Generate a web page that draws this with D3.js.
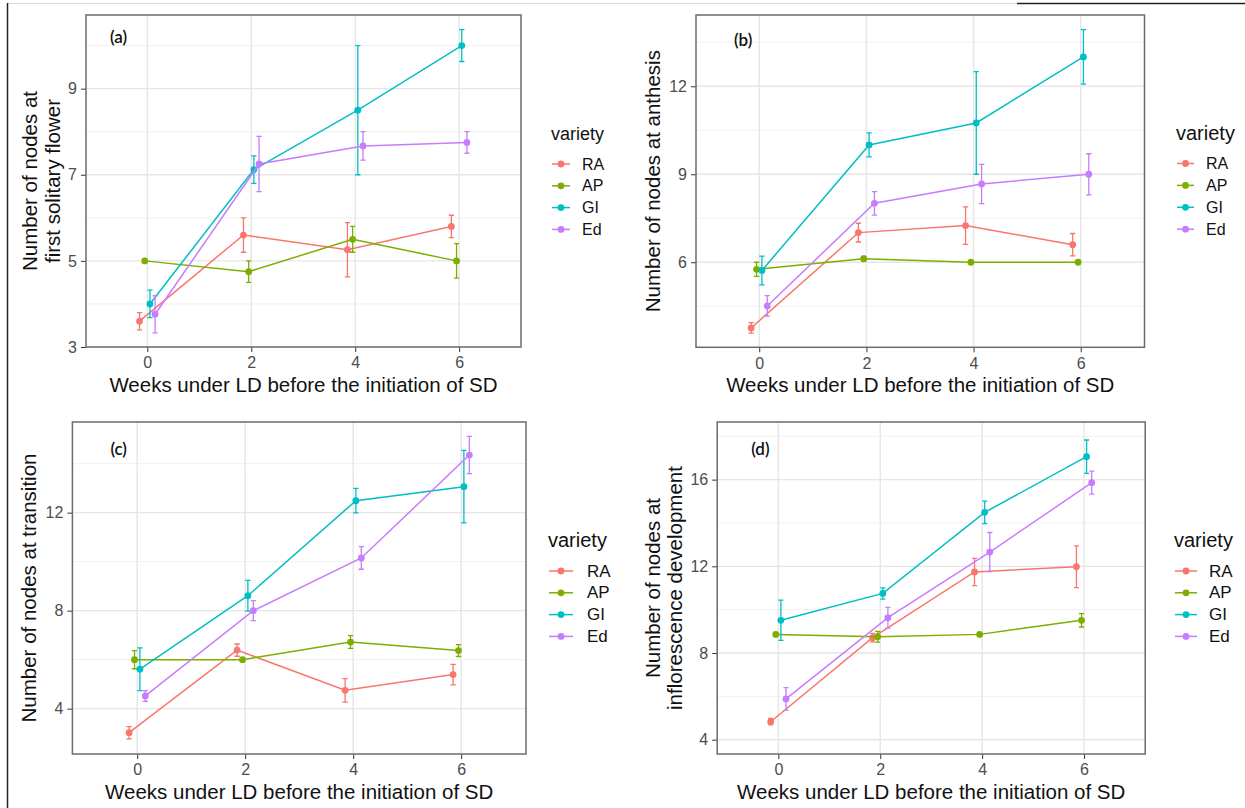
<!DOCTYPE html>
<html>
<head>
<meta charset="utf-8">
<script src="https://cdn.jsdelivr.net/npm/d3@7"></script>
<style>
  body { margin: 0; background: #fff; }
  svg { display: block; font-family: "Liberation Sans", Arial, sans-serif; }
</style>
</head>
<body>
<svg width="1245" height="808"></svg>
<script>
// weeks under long days, and the four varieties
const weeks = [0, 2, 4, 6];
const varieties = ["RA", "AP", "GI", "Ed"];
const palette = ["#F8766D", "#7CAE00", "#00BFC4", "#C77CFF"];

// (a) nodes at first solitary flower, rows = RA, AP, GI, Ed
const firstFlowerMean = [[3.6, 5.6, 5.26, 5.8], [5.0, 4.75, 5.5, 5.0], [4.0, 7.12, 8.5, 10.0], [3.76, 7.25, 7.67, 7.75]];
const firstFlowerSE = [[0.2, 0.4, 0.63, 0.26], [0, 0.25, 0.3, 0.4], [0.32, 0.32, 1.5, 0.37], [0.43, 0.64, 0.33, 0.25]];

// (b) nodes at anthesis
const anthesisMean = [[3.76, 7.01, 7.25, 6.6], [5.76, 6.12, 6.0, 6.0], [5.72, 10.0, 10.75, 13.0], [4.51, 8.01, 8.67, 9.0]];
const anthesisSE = [[0.18, 0.32, 0.64, 0.38], [0.24, 0.08, 0, 0], [0.49, 0.41, 1.75, 0.93], [0.35, 0.4, 0.67, 0.7]];

// (c) nodes at transition
const transitionMean = [[3.02, 6.39, 4.75, 5.39], [6.0, 6.0, 6.72, 6.37], [5.61, 8.61, 12.49, 13.06], [4.52, 8.0, 10.15, 14.35]];
const transitionSE = [[0.25, 0.25, 0.48, 0.42], [0.37, 0, 0.26, 0.24], [0.87, 0.63, 0.5, 1.48], [0.22, 0.41, 0.46, 0.76]];

// (d) nodes at inflorescence development
const inflorescenceMean = [[4.83, 8.71, 11.74, 11.98], [8.86, 8.75, 8.86, 9.51], [9.51, 10.75, 14.49, 17.06], [5.88, 9.63, 12.66, 15.86]];
const inflorescenceSE = [[0.15, 0.2, 0.63, 0.96], [0.08, 0.25, 0.06, 0.31], [0.93, 0.26, 0.52, 0.77], [0.52, 0.48, 0.9, 0.53]];

const ticksA = [3, 5, 7, 9];
const ticksB = [6, 9, 12];
const ticksC = [4, 8, 12];
const ticksD = [4, 8, 12, 16];

const xTitle = "Weeks under LD before the initiation of SD";
const dodge = 0.4;

const panels = [
  { tag: "(a)", mean: firstFlowerMean, se: firstFlowerSE, ticks: ticksA, yDomain: [3.0, 10.71],
    xDomain: [-1.18, 7.19], box: [86, 15, 521, 347], yTitle: ["Number of nodes at", "first solitary flower"],
    yTitleX: [29, 52], tagPos: [24, 43], legend: { x: 551, y: 140, keyY: 164, step: 21.8, titleSize: 18, labelSize: 16, key: 18, gap: 12 } },
  { tag: "(b)", mean: anthesisMean, se: anthesisSE, ticks: ticksB, yDomain: [3.10, 14.43],
    xDomain: [-1.18, 7.19], box: [696, 15, 1144.5, 347.3], yTitle: ["Number of nodes at anthesis"],
    yTitleX: [652], tagPos: [38, 46], legend: { x: 1176, y: 140, keyY: 163.5, step: 21.9, titleSize: 20, labelSize: 16, key: 17, gap: 12 } },
  { tag: "(c)", mean: transitionMean, se: transitionSE, ticks: ticksC, yDomain: [2.15, 15.70],
    xDomain: [-1.2, 7.2], box: [72.4, 422, 526, 754], yTitle: ["Number of nodes at transition"],
    yTitleX: [28], tagPos: [38, 455], legend: { x: 548, y: 547, keyY: 571, step: 21.8, titleSize: 20, labelSize: 17, key: 24, gap: 14 } },
  { tag: "(d)", mean: inflorescenceMean, se: inflorescenceSE, ticks: ticksD, yDomain: [3.34, 18.66],
    xDomain: [-1.2, 7.2], box: [717.2, 422, 1145.2, 754], yTitle: ["Number of nodes at", "inflorescence development"],
    yTitleX: [652, 674], tagPos: [34, 455], legend: { x: 1174, y: 547, keyY: 571, step: 21.8, titleSize: 20, labelSize: 17, key: 22, gap: 12 } }
];

const svg = d3.select("svg");

// stray page borders from the original composite
svg.append("line").attr("x1", 7).attr("x2", 1017).attr("y1", 3.5).attr("y2", 3.5)
  .attr("stroke", "#d9d9d9").attr("stroke-width", 1.2);
svg.append("line").attr("x1", 1017).attr("x2", 1245).attr("y1", 3.5).attr("y2", 3.5)
  .attr("stroke", "#222").attr("stroke-width", 1.5);
svg.append("line").attr("x1", 7.5).attr("x2", 7.5).attr("y1", 3).attr("y2", 808)
  .attr("stroke", "#222").attr("stroke-width", 1.5);

const drawPanel = (p) => {
  const [x0, y0, x1, y1] = p.box;
  const x = d3.scaleLinear().domain(p.xDomain).range([x0, x1]);
  const y = d3.scaleLinear().domain(p.yDomain).range([y1, y0]);
  const g = svg.append("g");

  // minor grid, halfway between major ticks
  const step = p.ticks[1] - p.ticks[0];
  const minor = d3.range(p.ticks[0] - step / 2, p.yDomain[1], step)
    .filter((v) => v > p.yDomain[0] && v < p.yDomain[1]);
  g.selectAll(".minor").data(minor).enter().append("line")
    .attr("x1", x0).attr("x2", x1)
    .attr("y1", (d) => y(d)).attr("y2", (d) => y(d))
    .attr("stroke", "#f0f0f0").attr("stroke-width", 1);
  g.selectAll(".majorY").data(p.ticks).enter().append("line")
    .attr("x1", x0).attr("x2", x1)
    .attr("y1", (d) => y(d)).attr("y2", (d) => y(d))
    .attr("stroke", "#e6e6e6").attr("stroke-width", 1.4);
  g.selectAll(".majorX").data(weeks).enter().append("line")
    .attr("x1", (d) => x(d)).attr("x2", (d) => x(d))
    .attr("y1", y0).attr("y2", y1)
    .attr("stroke", "#e6e6e6").attr("stroke-width", 1.4);

  // axes
  const yAxis = g.append("g").attr("transform", `translate(${x0},0)`)
    .call(d3.axisLeft(y).tickValues(p.ticks).tickSize(5).tickPadding(4));
  const xAxis = g.append("g").attr("transform", `translate(0,${y1})`)
    .call(d3.axisBottom(x).tickValues(weeks).tickSize(5).tickPadding(5));
  [yAxis, xAxis].forEach((a) => {
    a.select(".domain").remove();
    a.selectAll("line").attr("stroke", "#333");
    a.selectAll("text").attr("fill", "#4d4d4d").attr("font-size", 16)
      .attr("font-family", "Liberation Sans, Arial, sans-serif");
  });

  // series: error bars, lines, points
  varieties.forEach((v, i) => {
    const off = (i - 1.5) * dodge / 4;
    const pts = weeks.map((w, j) => ({ w: w + off, m: p.mean[i][j], s: p.se[i][j] }));
    const col = palette[i];
    const eb = g.append("g").attr("stroke", col).attr("stroke-width", 1.3).attr("fill", "none");
    pts.filter((d) => d.s > 0).forEach((d) => {
      const cx = x(d.w), hw = (x(0.05) - x(0));
      eb.append("path").attr("d",
        `M${cx - hw},${y(d.m + d.s)}H${cx + hw}M${cx},${y(d.m + d.s)}V${y(d.m - d.s)}M${cx - hw},${y(d.m - d.s)}H${cx + hw}`);
    });
    g.append("path").datum(pts)
      .attr("d", d3.line().x((d) => x(d.w)).y((d) => y(d.m)))
      .attr("fill", "none").attr("stroke", col).attr("stroke-width", 1.5);
    g.selectAll(null).data(pts).enter().append("circle")
      .attr("cx", (d) => x(d.w)).attr("cy", (d) => y(d.m)).attr("r", 3.4)
      .attr("fill", col);
  });

  // panel border
  g.append("rect").attr("x", x0).attr("y", y0).attr("width", x1 - x0).attr("height", y1 - y0)
    .attr("fill", "none").attr("stroke", "#6b6b6b").attr("stroke-width", 1.5);

  g.append("text").attr("x", x0 + p.tagPos[0]).attr("y", p.tagPos[1])
    .attr("font-family", "Lato, sans-serif").attr("font-weight", 600).attr("font-size", 17)
    .attr("fill", "#111").text(p.tag);

  // titles
  g.append("text").attr("x", (x0 + x1) / 2).attr("y", y1 + 45)
    .attr("text-anchor", "middle").attr("font-size", 20.5).attr("fill", "#111").text(xTitle);
  const cy = (y0 + y1) / 2;
  p.yTitle.forEach((t, k) => {
    g.append("text").attr("transform", `translate(${p.yTitleX[k]},${cy}) rotate(-90)`)
      .attr("text-anchor", "middle").attr("dominant-baseline", "central")
      .attr("font-size", 20.5).attr("fill", "#111").text(t);
  });

  // legend
  const L = p.legend;
  g.append("text").attr("x", L.x).attr("y", L.y).attr("font-size", L.titleSize)
    .attr("fill", "#111").text("variety");
  const item = g.selectAll(".leg").data(varieties).enter().append("g")
    .attr("transform", (d, i) => `translate(${L.x + 1},${L.keyY + i * L.step})`);
  item.append("line").attr("x1", 0).attr("x2", L.key)
    .attr("stroke", (d, i) => palette[i]).attr("stroke-width", 1.5);
  item.append("circle").attr("cx", L.key / 2).attr("r", 3.4).attr("fill", (d, i) => palette[i]);
  item.append("text").attr("x", L.key + L.gap).attr("dominant-baseline", "central")
    .attr("font-size", L.labelSize).attr("fill", "#111").text((d) => d);
};

panels.forEach(drawPanel);
</script>
</body>
</html>
